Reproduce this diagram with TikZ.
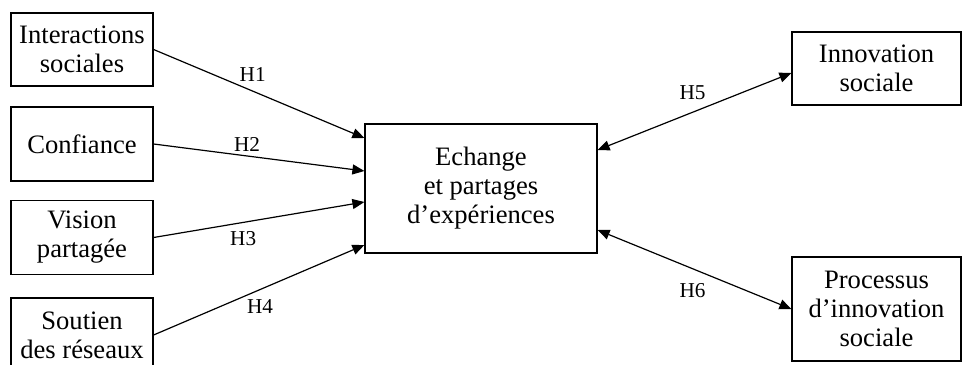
\documentclass[tikz,border=0pt]{standalone}
\usepackage{fontspec}
\setmainfont{Liberation Serif}
\usetikzlibrary{arrows.meta}
\begin{document}
\begin{tikzpicture}[x=0.5pt,y=-0.5pt,
  box/.style={draw, line width=0.6pt, rectangle, inner sep=0pt, align=center,
    font=\fontsize{13.3}{14.5}\selectfont},
  conn/.style={line width=0.6pt, -{Triangle[length=6pt,width=5pt]}},
  biconn/.style={line width=0.6pt, {Triangle[length=6pt,width=5pt]}-{Triangle[length=6pt,width=5pt]}},
  hlab/.style={font=\fontsize{10.6}{12}\selectfont, inner sep=0pt}]
\useasboundingbox (0,0) rectangle (962,364);
\node[box, minimum width=71pt, minimum height=36.5pt] (n1) at (82,49.5) {Interactions\\sociales};
\node[box, minimum width=71pt, minimum height=37pt] (n2) at (82,144) {Confiance};
\node[box, minimum width=71pt, minimum height=37pt] (n3) at (82,237.5) {Vision\\partagée};
\node[box, minimum width=71pt, minimum height=37pt] (n4) at (82,335) {Soutien\\des réseaux};
\node[box, minimum width=116pt, minimum height=64.5pt] (c) at (481,188.5) {Echange\\et partages\\d’expériences};
\node[box, minimum width=84.5pt, minimum height=36.5pt] (r1) at (876.5,68.5) {Innovation\\sociale};
\node[box, minimum width=84.5pt, minimum height=52pt] (r2) at (876.5,309) {Processus\\d’innovation\\sociale};
\draw[conn] (n1.east) -- node[hlab, pos=0.47, yshift=8.3pt] {H1} ([yshift=25.25pt]c.west);
\draw[conn] (n2.east) -- node[hlab, pos=0.443, yshift=5.75pt] {H2} ([yshift=8.75pt]c.west);
\draw[conn] (n3.east) -- node[hlab, pos=0.425, yshift=-8.3pt] {H3} ([yshift=-6.75pt]c.west);
\draw[conn] (n4.east) -- node[hlab, pos=0.505, yshift=-8.7pt] {H4} ([yshift=-28.25pt]c.west);
\draw[biconn] ([yshift=19.25pt]c.east) -- node[hlab, pos=0.49, yshift=9.65pt] {H5} ([yshift=-2.25pt]r1.west);
\draw[biconn] ([yshift=-20.75pt]c.east) -- node[hlab, pos=0.49, yshift=-10.9pt] {H6} (r2.west);
\end{tikzpicture}
\end{document}
